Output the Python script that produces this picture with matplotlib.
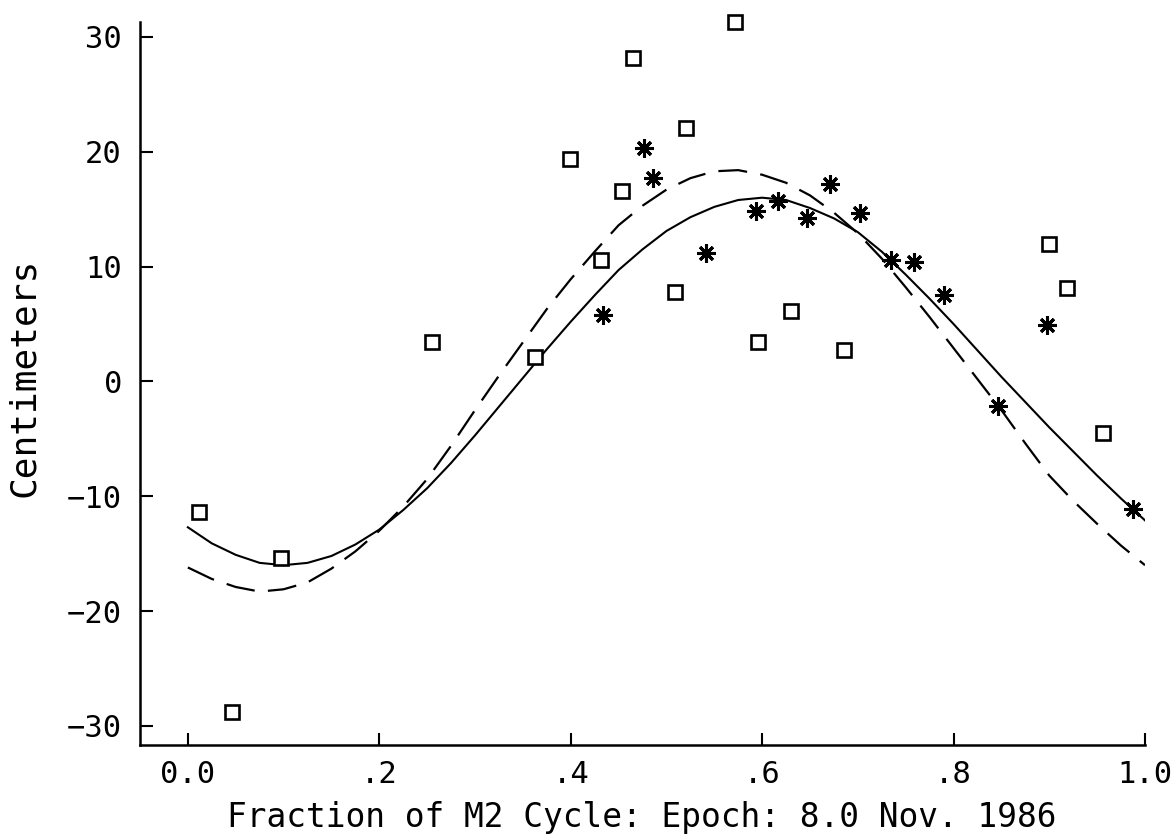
import matplotlib
matplotlib.use("Agg")
import matplotlib.pyplot as plt

# ---- data ----
sq_x = [0.012, 0.046, 0.097, 0.255, 0.363, 0.399, 0.432, 0.454, 0.465, 0.509,
        0.520, 0.572, 0.596, 0.630, 0.685, 0.900, 0.918, 0.956]
sq_y = [-11.4, -28.8, -15.4, 3.4, 2.1, 19.4, 10.6, 16.6, 28.2, 7.8,
        22.1, 31.3, 3.4, 6.1, 2.7, 12.0, 8.1, -4.5]

ast_x = [0.434, 0.477, 0.486, 0.541, 0.594, 0.617, 0.647, 0.671, 0.702, 0.735,
         0.759, 0.790, 0.846, 0.898, 0.987]
ast_y = [5.8, 20.3, 17.7, 11.2, 14.8, 15.7, 14.2, 17.2, 14.7, 10.6,
         10.4, 7.5, -2.1, 4.9, -11.1]

curve_x = [0.000, 0.025, 0.050, 0.075, 0.100, 0.125, 0.150, 0.175, 0.200, 0.225,
           0.250, 0.275, 0.300, 0.325, 0.350, 0.375, 0.400, 0.425, 0.450, 0.475,
           0.500, 0.525, 0.550, 0.575, 0.600, 0.625, 0.650, 0.675, 0.700, 0.725,
           0.750, 0.775, 0.800, 0.825, 0.850, 0.875, 0.900, 0.925, 0.950, 0.975,
           1.000]
solid_y = [-12.7, -14.1, -15.1, -15.8, -16.0, -15.8, -15.2, -14.2, -12.9, -11.2,
           -9.3, -7.1, -4.7, -2.2, 0.3, 2.8, 5.2, 7.5, 9.7, 11.5,
           13.1, 14.3, 15.2, 15.8, 16.0, 15.8, 15.1, 14.2, 13.0, 11.3,
           9.3, 7.2, 5.0, 2.7, 0.4, -1.8, -4.0, -6.1, -8.2, -10.2,
           -12.1]
dashed_y = [-16.2, -17.2, -17.9, -18.3, -18.1, -17.5, -16.3, -14.8, -13.0, -10.9,
            -8.5, -5.6, -2.5, 0.5, 3.4, 6.3, 8.9, 11.3, 13.6, 15.3,
            16.7, 17.7, 18.3, 18.4, 18.0, 17.3, 16.2, 14.7, 12.9, 10.7,
            8.2, 5.6, 2.9, 0.2, -2.5, -5.4, -8.2, -10.4, -12.4, -14.3,
            -16.0]

x_ticks = [0.0, 0.2, 0.4, 0.6, 0.8, 1.0]
x_ticklabels = ["0.0", ".2", ".4", ".6", ".8", "1.0"]
y_ticks = [-30, -20, -10, 0, 10, 20, 30]
y_ticklabels = ["\u221230", "\u221220", "\u221210", "0", "10", "20", "30"]

x_label = "Fraction of M2 Cycle: Epoch: 8.0 Nov. 1986"
y_label = "Centimeters"

# ---- figure ----
W, H = 1173, 836
fig = plt.figure(figsize=(W / 100, H / 100), dpi=100)
ax = fig.add_axes([140 / W, 1 - 745 / H, (1145 - 140) / W, (745 - 22) / H])

font = "DejaVu Sans Mono"

ax.plot(curve_x, solid_y, color="black", lw=1.5)
ax.plot(curve_x, dashed_y, color="black", lw=1.6, dashes=(13, 6))

ax.plot(sq_x, sq_y, ls="none", marker="s", ms=10.5, mfc="white", mec="black",
        mew=1.9, clip_on=False, zorder=3)
ax.plot(ast_x, ast_y, ls="none", marker=(8, 2, 0), ms=13, mec="black",
        mew=2.2, clip_on=False, zorder=3)

ax.set_xlim(-0.05, 1.0)
ax.set_ylim(-31.66, 31.3)

for s in ["top", "right"]:
    ax.spines[s].set_visible(False)
for s in ["left", "bottom"]:
    ax.spines[s].set_linewidth(1.8)

ax.set_xticks(x_ticks)
ax.set_xticklabels(x_ticklabels, fontfamily=font, fontsize=22)
ax.set_yticks(y_ticks)
ax.set_yticklabels(y_ticklabels, fontfamily=font, fontsize=22)
ax.tick_params(direction="in", length=9, width=1.5, pad=11)
ax.tick_params(axis="y", pad=13)

fig.text(642 / W, 1 - 827 / H, x_label, ha="center", va="baseline",
         fontfamily=font, fontsize=23.6)
fig.text(24 / W, 1 - 377 / H, y_label, ha="center", va="center",
         rotation=90, fontfamily=font, fontsize=26)

fig.savefig("out.png", dpi=100)
